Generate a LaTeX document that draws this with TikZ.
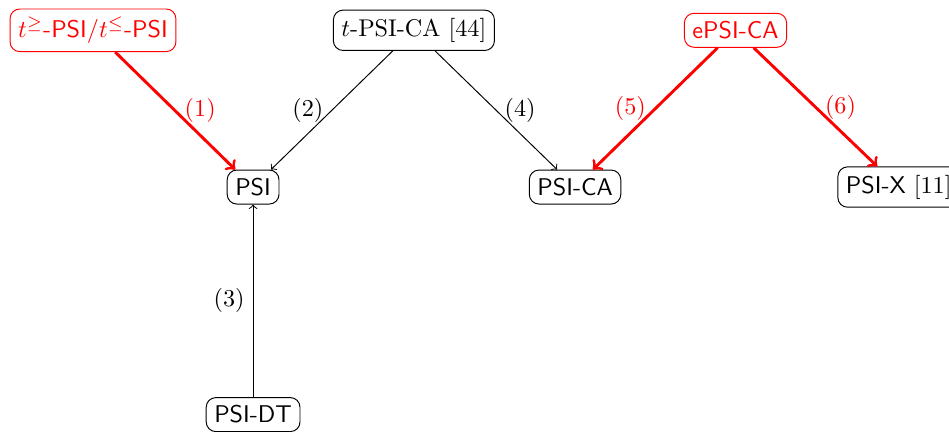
\documentclass[tikz,border=0pt]{standalone}
\usepackage{amssymb}
\usetikzlibrary{calc}
\usetikzlibrary{arrows}

\begin{document}
\begin{tikzpicture} [box/.style={draw, rounded corners, font=\sffamily}, hot/.style={red, very thick}]
\useasboundingbox (0,0) rectangle (13.78,-6.27);
% top row
\node[box, red] (thr) at (1.35,-0.44) {$t^{\geq}$-PSI/$t^{\leq}$-PSI};
\node[box, font=\rmfamily] (tca) at (6.01,-0.44) {$t$-PSI-CA [44]};
\node[box, red] (epsi) at (10.68,-0.44) {ePSI-CA};
% middle row
\node[box] (psi) at (3.675,-2.716) {PSI};
\node[box] (psica) at (8.35,-2.716) {PSI-CA};
\node[box] (psix) at (13.05,-2.716) {PSI-X \textrm{[11]}};
% bottom
\node[box] (psidt) at (3.675,-6.02) {PSI-DT};

\draw[hot, ->] (thr)--(psi) node[midway, right] {(1)};
\draw[->] (tca)--(psi) node[midway, left] {(2)};
\draw[->] (psidt)--(psi) node[midway, left] {(3)};
\draw[->] (tca)--(psica) node[midway, right] {(4)};
\draw[hot, ->] (epsi)--(psica) node[midway, left] {(5)};
\draw[hot, ->] (epsi)--(psix) node[midway, right] {(6)};
\end{tikzpicture}
\end{document}
